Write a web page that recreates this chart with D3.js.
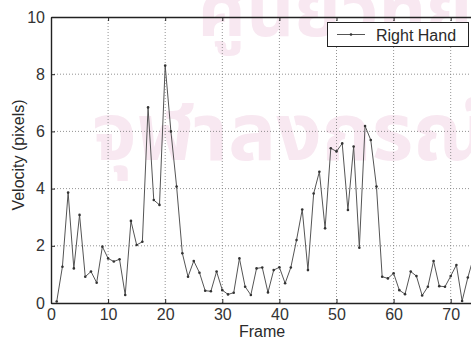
<!DOCTYPE html>
<html>
<head>
<meta charset="utf-8">
<script src="https://cdn.jsdelivr.net/npm/d3@7"></script>
<style>
  body { margin: 0; background: #fff; }
  svg { display: block; }
  text { font-family: "Liberation Sans", Arial, sans-serif; fill: #2a2a2a; }
</style>
</head>
<body>
<script>
// data
var frames = [1, 2, 3, 4, 5, 6, 7, 8, 9, 10, 11, 12, 13, 14, 15, 16, 17, 18, 19, 20,
  21, 22, 23, 24, 25, 26, 27, 28, 29, 30, 31, 32, 33, 34, 35, 36, 37, 38, 39, 40,
  41, 42, 43, 44, 45, 46, 47, 48, 49, 50, 51, 52, 53, 54, 55, 56, 57, 58, 59, 60,
  61, 62, 63, 64, 65, 66, 67, 68, 69, 70, 71, 72, 73, 74]
var rightHand = [0.05, 1.27, 3.86, 1.21, 3.08, 0.92, 1.1, 0.71, 1.97, 1.56, 1.45, 1.53, 0.28, 2.87, 2.03, 2.14, 6.84, 3.6, 3.43, 8.3,
  6.0, 4.07, 1.74, 0.92, 1.47, 1.06, 0.43, 0.41, 1.1, 0.45, 0.3, 0.36, 1.56, 0.57, 0.28, 1.21, 1.24, 0.37, 1.15, 1.25,
  0.69, 1.24, 2.2, 3.27, 1.15, 3.83, 4.59, 2.61, 5.41, 5.3, 5.58, 3.25, 5.47, 1.93, 6.19, 5.7, 4.07, 0.92, 0.86, 1.04,
  0.45, 0.31, 1.1, 0.94, 0.26, 0.57, 1.47, 0.59, 0.57, 0.94, 1.33, 0.07, 0.89, 1.6]
var xTicks = [0, 10, 20, 30, 40, 50, 60, 70]
var yTicks = [0, 2, 4, 6, 8, 10]
var seriesName = "Right Hand"

var W = 471, H = 340
var mLeft = 51, mTop = 17, mBottom = 303

var svg = d3.select("body").append("svg")
  .attr("width", W).attr("height", H)

// faint watermark of the scanned page
svg.append("text")
  .attr("x", 335).attr("y", 36)
  .attr("text-anchor", "middle")
  .style("font-family", "'Noto Sans Thai', 'DejaVu Sans', sans-serif")
  .style("font-size", "74px").style("font-weight", "bold")
  .style("fill", "#f8e8f1")
  .text("ศูนย์วิทย")
svg.append("text")
  .attr("x", 290).attr("y", 160)
  .attr("text-anchor", "middle")
  .style("font-family", "'Noto Sans Thai', 'DejaVu Sans', sans-serif")
  .style("font-size", "80px").style("font-weight", "bold")
  .style("fill", "#f8e8f1")
  .text("จุฬาลงกรณ์")

var x = d3.scaleLinear().domain([0, 80]).range([mLeft, mLeft + 80 * 5.71])
var y = d3.scaleLinear().domain([0, 10]).range([mBottom, mTop])

// grid
var grid = svg.append("g")
grid.selectAll(".gx").data(xTicks.slice(1)).enter().append("line")
  .attr("x1", function(d) { return x(d) }).attr("x2", function(d) { return x(d) })
  .attr("y1", mTop).attr("y2", mBottom)
  .attr("stroke", "#777").attr("stroke-width", 0.8).attr("stroke-dasharray", "1,2")
grid.selectAll(".gy").data(yTicks.slice(1, -1)).enter().append("line")
  .attr("x1", mLeft).attr("x2", W)
  .attr("y1", function(d) { return y(d) }).attr("y2", function(d) { return y(d) })
  .attr("stroke", "#777").attr("stroke-width", 0.8).attr("stroke-dasharray", "1,2")

// axes (ticks inside, matlab style)
var xAxis = d3.axisBottom(x).tickValues(xTicks).tickSizeInner(-4).tickSizeOuter(0).tickPadding(8)
var gx = svg.append("g").attr("transform", "translate(0," + mBottom + ")").call(xAxis)
gx.selectAll("text").style("font-size", "16px").attr("dy", "0.55em")

var xTop = d3.axisTop(x).tickValues(xTicks).tickSizeInner(-4).tickSizeOuter(0).tickFormat("")
svg.append("g").attr("transform", "translate(0," + mTop + ")").call(xTop)

var yAxis = d3.axisLeft(y).tickValues(yTicks).tickSizeInner(-4).tickSizeOuter(0).tickPadding(6)
var gy = svg.append("g").attr("transform", "translate(" + mLeft + ",0)").call(yAxis)
gy.selectAll("text").style("font-size", "16px")

svg.selectAll(".domain").attr("stroke", "#222").attr("stroke-width", 1.4)
svg.selectAll(".tick line").attr("stroke", "#222")
svg.selectAll(".tick text").style("fill", "#333")

// series
var pts = frames.map(function(f, i) { return [f, rightHand[i]] })
var line = d3.line().x(function(d) { return x(d[0]) }).y(function(d) { return y(d[1]) })
svg.append("path").datum(pts)
  .attr("d", line)
  .attr("fill", "none").attr("stroke", "#555").attr("stroke-width", 1)
svg.selectAll(".pt").data(pts).enter().append("circle")
  .attr("cx", function(d) { return x(d[0]) }).attr("cy", function(d) { return y(d[1]) })
  .attr("r", 1.3).attr("fill", "#333")

// labels
svg.append("text")
  .attr("x", 262).attr("y", 337)
  .attr("text-anchor", "middle").style("font-size", "16px")
  .text("Frame")
svg.append("text")
  .attr("transform", "translate(24,155) rotate(-90)")
  .attr("text-anchor", "middle").style("font-size", "16px")
  .text("Velocity (pixels)")

// legend
var lg = svg.append("g")
lg.append("rect")
  .attr("x", 327.5).attr("y", 22.5).attr("width", 141).attr("height", 24)
  .attr("fill", "#fff").attr("stroke", "#222").attr("stroke-width", 1)
lg.append("line")
  .attr("x1", 337).attr("x2", 365).attr("y1", 34.5).attr("y2", 34.5)
  .attr("stroke", "#555").attr("stroke-width", 1)
lg.append("circle").attr("cx", 351).attr("cy", 34.5).attr("r", 1.3).attr("fill", "#333")
lg.append("text")
  .attr("x", 376).attr("y", 40.5).style("font-size", "16px")
  .text(seriesName)
</script>
</body>
</html>
